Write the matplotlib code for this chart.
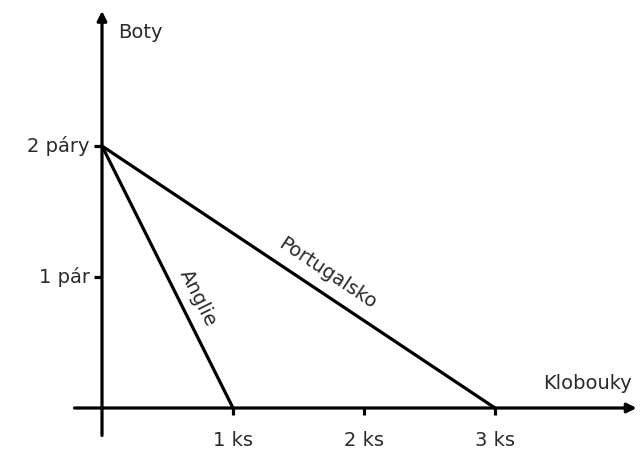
import numpy as np
import matplotlib
matplotlib.use('Agg')
from matplotlib import pyplot as plt

# production possibilities: hats (x) vs shoes (y)
countries = ['Anglie', 'Portugalsko']
max_hats = [1, 3]
max_shoes = [2, 2]

x_ticks = [1, 2, 3]
x_labels = ['1 ks', '2 ks', '3 ks']
y_ticks = [1, 2]
y_labels = ['1 pár', '2 páry']

# label positions / angles along each line
label_pos = [(0.73, 0.84), (1.72, 1.03)]
label_rot = [-63.4, -33.7]

txt = '#2a2a2a'
lw = 2.3

fig = plt.figure(figsize=(6.4, 4.53), dpi=100)
ax = fig.add_axes([0, 0, 1, 1])
ax.set_xlim(-102 / 131, 538 / 131)
ax.set_ylim(-45 / 131, 408 / 131)
ax.axis('off')

# axes with arrows
ax.annotate('', xy=(0, 3.03), xytext=(0, -0.21),
            arrowprops=dict(arrowstyle='-|>,head_length=0.55,head_width=0.28',
                            lw=lw, color='black', shrinkA=0, shrinkB=0))
ax.annotate('', xy=(4.08, 0), xytext=(-0.21, 0),
            arrowprops=dict(arrowstyle='-|>,head_length=0.55,head_width=0.28',
                            lw=lw, color='black', shrinkA=0, shrinkB=0))

# ticks
for t, lab in zip(x_ticks, x_labels):
    ax.plot([t, t], [0, -0.05], color='black', lw=lw, solid_capstyle='butt')
    ax.text(t, -0.245, lab, ha='center', va='center', fontsize=14, color=txt)
for t, lab in zip(y_ticks, y_labels):
    ax.plot([-0.06, 0], [t, t], color='black', lw=lw, solid_capstyle='butt')
    ax.text(-0.095, t, lab, ha='right', va='center', fontsize=14, color=txt)

# axis names
ax.text(0.12, 2.87, 'Boty', ha='left', va='center', fontsize=14, color=txt)
ax.text(3.365, 0.19, 'Klobouky', ha='left', va='center', fontsize=14, color=txt)

# production possibility lines
for name, h, s, pos, rot in zip(countries, max_hats, max_shoes, label_pos, label_rot):
    ax.plot([0, h], [s, 0], color='black', lw=lw)
    ax.text(pos[0], pos[1], name, ha='center', va='center', rotation=rot,
            rotation_mode='anchor', fontsize=14, color=txt)

fig.savefig('out.png', dpi=100)
